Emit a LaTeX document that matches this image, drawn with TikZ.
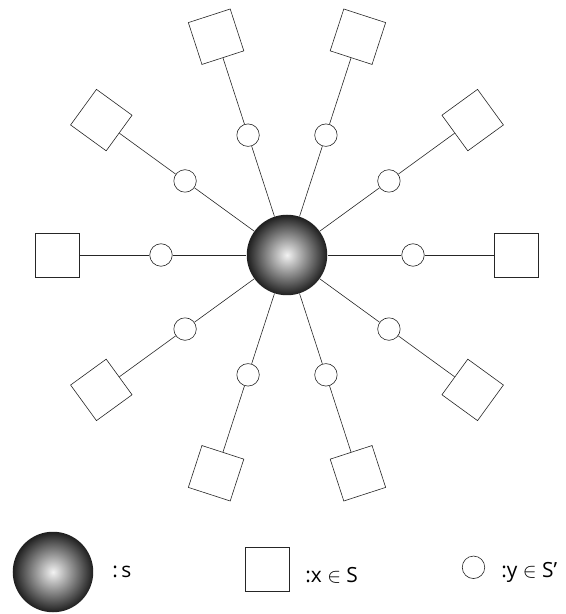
\documentclass[tikz,border=0pt]{standalone}
\usepackage{fontspec}
\setmainfont{Open Sans}
\usetikzlibrary{positioning}

\begin{document}
\begin{tikzpicture}
  [
    x = 1bp, y = 1bp,
    line width = 0.6bp, draw = black!85,
    ball/.style = {circle, minimum size = 80.5bp, inner sep = 0pt,
                   inner color = white!95!black, outer color = black!88},
    elem/.style = {draw, rectangle, minimum size = 44bp, inner sep = 0pt, fill = white},
    sub/.style = {draw, circle, minimum size = 22.5bp, inner sep = 0pt, fill = white},
    key/.style = {anchor = base west, inner sep = 0pt, font = \fontsize{21}{25}\selectfont}
  ]
  \useasboundingbox (-287,-359) rectangle (279,255);
  \node[ball] (Center) at (0,0) {};
  \foreach \a in {0,36,...,324} {
    \node[sub] (Y\a) at (\a:126) {};
    \node[elem, rotate = \a] (X\a) at (\a:229.5) {};
    \draw (Center) -- (Y\a) -- (X\a);
  }
  % legend
  \node[ball] (KeyS) at (-234,-317) {};
  \node[key] (LabS) at (-175,-322) {:\,s};
  \node[elem] (KeyX) at (-20,-314.5) {};
  \node[key] (LabX) at (18,-327) {:x $\in$ S};
  \node[sub] (KeyY) at (186.5,-312.3) {};
  \node[key] (LabY) at (214,-322) {:y $\in$ S’};
\end{tikzpicture}
\end{document}
